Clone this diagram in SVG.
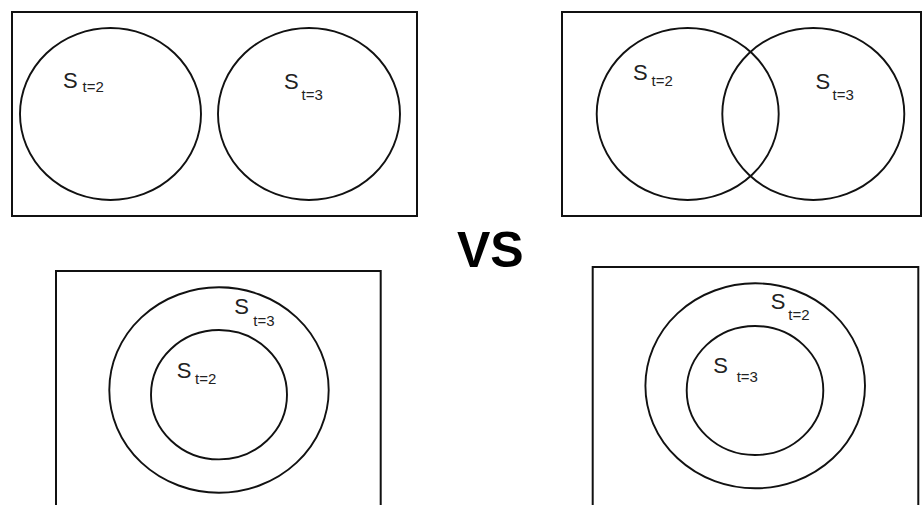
<svg xmlns="http://www.w3.org/2000/svg" width="922" height="505" viewBox="0 0 922 505">
<style>
.frame{fill:none;stroke:#111;stroke-width:2}
.set{fill:none;stroke:#111;stroke-width:1.9}
.s{font-family:"Liberation Sans",Arial,sans-serif;font-size:22px;fill:#222}
.sub{font-family:"Liberation Sans",Arial,sans-serif;font-size:15px;fill:#222}
.vs{font-family:"Liberation Sans",Arial,sans-serif;font-size:50px;font-weight:bold;fill:#000}
</style>
<rect width="922" height="505" fill="#fff"/>
<g id="panel-disjoint">
<rect class="frame" x="12" y="12" width="405" height="204"/>
<ellipse class="set" cx="110.5" cy="114" rx="90.5" ry="86"/>
<ellipse class="set" cx="309" cy="114" rx="91" ry="86"/>
<text class="s" x="63" y="88">S</text><text class="sub" x="82.5" y="92">t=2</text>
<text class="s" x="284" y="88.5">S</text><text class="sub" x="301.5" y="99.5">t=3</text>
</g>
<g id="panel-overlap">
<rect class="frame" x="562" y="12" width="359" height="204"/>
<ellipse class="set" cx="687.7" cy="114" rx="91" ry="86"/>
<ellipse class="set" cx="813.3" cy="114" rx="91" ry="86"/>
<text class="s" x="633" y="80">S</text><text class="sub" x="651.5" y="86">t=2</text>
<text class="s" x="815.5" y="88.5">S</text><text class="sub" x="832.5" y="99.5">t=3</text>
</g>
<g id="vs">
<text class="vs" x="457" y="267">VS</text>
</g>
<g id="panel-subset-2-in-3">
<path class="frame" d="M56,506 V271 H380.7 V506"/>
<ellipse class="set" cx="219" cy="390" rx="109.7" ry="102.7"/>
<ellipse class="set" cx="219" cy="394.7" rx="68" ry="64.7"/>
<text class="s" x="234.3" y="314">S</text><text class="sub" x="253.3" y="325.7">t=3</text>
<text class="s" x="176.7" y="378.3">S</text><text class="sub" x="195" y="384">t=2</text>
</g>
<g id="panel-subset-3-in-2">
<path class="frame" d="M592.7,506 V267 H918.3 V506"/>
<ellipse class="set" cx="755.2" cy="385.8" rx="109.8" ry="102.5"/>
<ellipse class="set" cx="755" cy="390.5" rx="68.3" ry="64.5"/>
<text class="s" x="770.7" y="309">S</text><text class="sub" x="788.3" y="320">t=2</text>
<text class="s" x="713.3" y="373.3">S</text><text class="sub" x="736.7" y="381.7">t=3</text>
</g>
</svg>
